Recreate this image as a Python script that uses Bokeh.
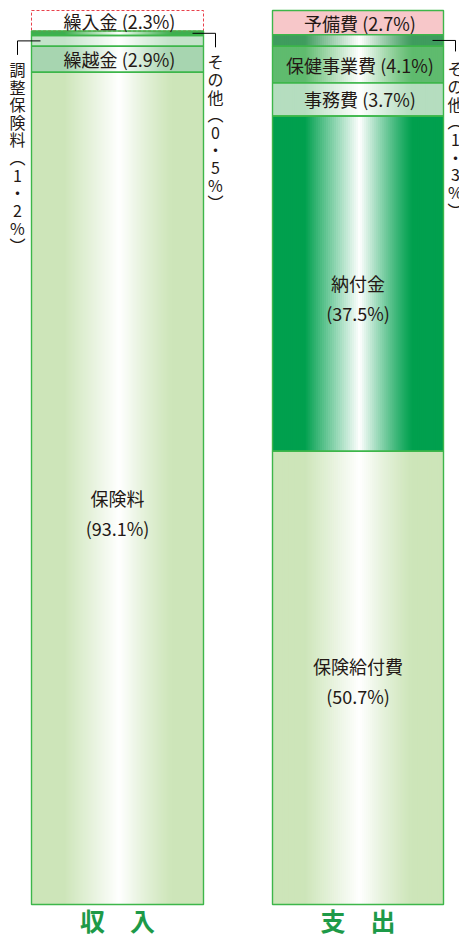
from bokeh.plotting import figure
from bokeh.models import Range1d
from bokeh.core.properties import value
from bokeh.embed import file_html
from bokeh.resources import INLINE

# ---------------- data ----------------
income_labels = ["保険料", "繰越金", "調整保険料", "その他", "繰入金"]
income_values = [93.1, 2.9, 1.2, 0.5, 2.3]
expense_labels = ["保険給付費", "納付金", "事務費", "保健事業費", "その他", "予備費"]
expense_values = [50.7, 37.5, 3.7, 4.1, 1.3, 2.7]
column_titles = ["収\u3000入", "支\u3000出"]

# ---------------- styles ----------------
income_colors = ["#cde5b9", "#a7d5b0", "#c3e3c9", "#3fae50", "#ffffff"]
expense_colors = ["#cde5b9", "#00a04e", "#b5ddbf", "#5fbb6e", "#3f9c5e", "#f7c7c9"]
income_grad = [True, True, True, True, False]
expense_grad = [True, True, True, True, True, False]
income_mode = ["two", "in", "left", "right", "in"]
expense_mode = ["two", "two", "in", "in", "right", "in"]
two_line_offsets = {("inc", 0): 10, ("exp", 0): -12, ("exp", 1): -1}

FONT = "Noto Sans CJK JP"
TEXT_COLOR = "#231815"
BORDER = "#3db64a"
W, H = 459, 938
TOP_PAD, BOT_PAD = 10, 34
PX = (H - TOP_PAD - BOT_PAD) / 100.0
cols = [(31, 203), (272, 443)]


def py(y, dpx):
    return y - dpx / PX


def mix(hexc, w):
    r, g, b = int(hexc[1:3], 16), int(hexc[3:5], 16), int(hexc[5:7], 16)
    r = round(r + (255 - r) * w)
    g = round(g + (255 - g) * w)
    b = round(b + (255 - b) * w)
    return "#%02x%02x%02x" % (r, g, b)


def profile(t):
    a, c, b = 0.19, 0.51, 0.82
    if t <= a or t >= b:
        return 0.0
    if t < c:
        return (t - a) / (c - a)
    return ((b - t) / (b - c)) ** 1.2


p = figure(width=W, height=H, output_backend="svg", toolbar_location=None,
           x_range=Range1d(0, W), y_range=Range1d(-BOT_PAD / PX, 100 + TOP_PAD / PX),
           min_border=0)
p.axis.visible = False
p.grid.visible = False
p.outline_line_color = None
p.background_fill_color = "white"
p.border_fill_color = "white"

N = 86
texts = []
lines = []

for ci, (labels, values, colors, grads, modes, key) in enumerate([
        (income_labels, income_values, income_colors, income_grad, income_mode, "inc"),
        (expense_labels, expense_values, expense_colors, expense_grad, expense_mode, "exp")]):
    L, R = cols[ci]
    cx = (L + R) / 2
    bottom = 0.0
    sl, sr, sb, st, sc = [], [], [], [], []
    ol, orr, ob, ot = [], [], [], []
    dashed = None
    for si, (lab, v, col, g, mode) in enumerate(zip(labels, values, colors, grads, modes)):
        top = bottom + v
        if g:
            dw = (R - L) / N
            for i in range(N):
                t = (i + 0.5) / N
                sl.append(L + i * dw)
                sr.append(min(R, L + (i + 1) * dw + 0.7))
                sb.append(bottom)
                st.append(top)
                sc.append(mix(col, profile(t)))
        else:
            sl.append(L); sr.append(R); sb.append(bottom); st.append(top); sc.append(col)
        if key == "inc" and si == len(labels) - 1:
            dashed = (bottom, top)
        else:
            ol.append(L); orr.append(R); ob.append(bottom); ot.append(top)
        mid = (bottom + top) / 2
        pct = f"{v}%"
        if mode == "in":
            texts.append(dict(x=[cx + 2], y=[mid], text=[f"{lab} ({pct})"], size="18px",
                              baseline="middle", lh=1.2))
        elif mode == "two":
            off = two_line_offsets.get((key, si), 0)
            texts.append(dict(x=[cx, cx], y=[py(mid, off), py(mid, off + 30)],
                              text=[lab, f"({pct})"], size="18px", baseline="middle", lh=1.2))
        else:
            vert = "\n".join(list(lab) + ["︵"] + list(str(v).replace(".", "・")) + ["%", "︶"])
            if mode == "left":
                x0, x1 = L + 9, L - 14
                drop = 14
            else:
                x0, x1 = R - 11, R + 12
                drop = 14 if ci == 0 else 11
            lines.append(([x0, x1, x1], [mid, mid, py(mid, drop)]))
            texts.append(dict(x=[x1], y=[py(mid, 16)], text=[vert], size="16px",
                              baseline="top", lh=0.735))
        bottom = top
    p.quad(left=sl, right=sr, bottom=sb, top=st, fill_color=sc, line_color=None)
    if dashed is not None:
        p.quad(left=[L], right=[R], bottom=[dashed[0]], top=[dashed[1]], fill_color="white",
               line_color="#e8414b", line_width=1, line_dash="3 2")
    p.quad(left=ol, right=orr, bottom=ob, top=ot, fill_color=None,
           line_color=BORDER, line_width=1.4)
    texts.append(dict(x=[cx], y=[py(0, 15)], text=[column_titles[ci]], size="25px",
                      baseline="middle", lh=1.2, bold=True))

for xs, ys in lines:
    p.line(x=xs, y=ys, line_color="black", line_width=1)

for t in texts:
    p.text(x=t["x"], y=t["y"], text=t["text"], text_font=value(FONT),
           text_font_size=t["size"], text_align="center", text_baseline=t["baseline"],
           text_line_height=t["lh"],
           text_font_style="bold" if t.get("bold") else "normal",
           text_color="#1d9a48" if t.get("bold") else TEXT_COLOR)

open("out.html", "w").write(file_html(p, INLINE))
